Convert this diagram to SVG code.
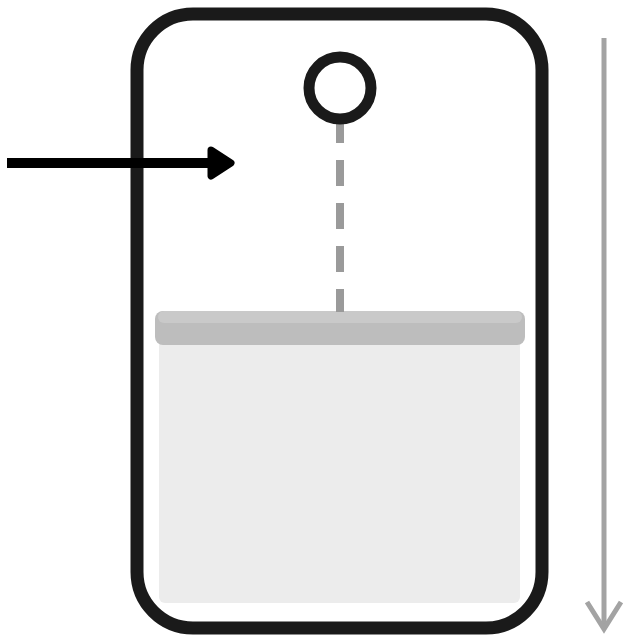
<svg xmlns="http://www.w3.org/2000/svg" width="628" height="639" viewBox="0 0 628 639">
<style>
.frame{fill:none;stroke:#1a1a1a;stroke-width:13}
.dash{stroke:#9a9a9a;stroke-width:8;stroke-dasharray:26 17}
.arrow{stroke:#000;stroke-width:10;fill:none}
.grey{stroke:#a3a3a3;stroke-width:5;fill:none}
</style>
<rect width="628" height="639" fill="#fff"/>
<g id="container">
<rect x="159" y="340" width="361" height="263" rx="6" fill="#ececec"/>
<rect x="155" y="311" width="370" height="34" rx="8" fill="#bdbdbd"/>
<rect x="158" y="311" width="364" height="12" rx="6" fill="#c9c9c9"/>
<rect class="frame" x="137" y="14" width="405" height="614" rx="56"/>
</g>
<g id="connectors">
<line class="dash" x1="340" y1="117" x2="340" y2="312"/>
<line class="arrow" x1="7" y1="163" x2="215" y2="163"/>
<path d="M211 150 L231 163 L211 176 Z" fill="#000" stroke="#000" stroke-width="7" stroke-linejoin="round"/>
<line class="grey" x1="604" y1="38" x2="604" y2="628"/>
<polyline class="grey" points="587,602 604,629 621,602"/>
</g>
<g id="knob">
<circle cx="340" cy="88" r="31" fill="#fff" stroke="#1a1a1a" stroke-width="11"/>
</g>
</svg>
